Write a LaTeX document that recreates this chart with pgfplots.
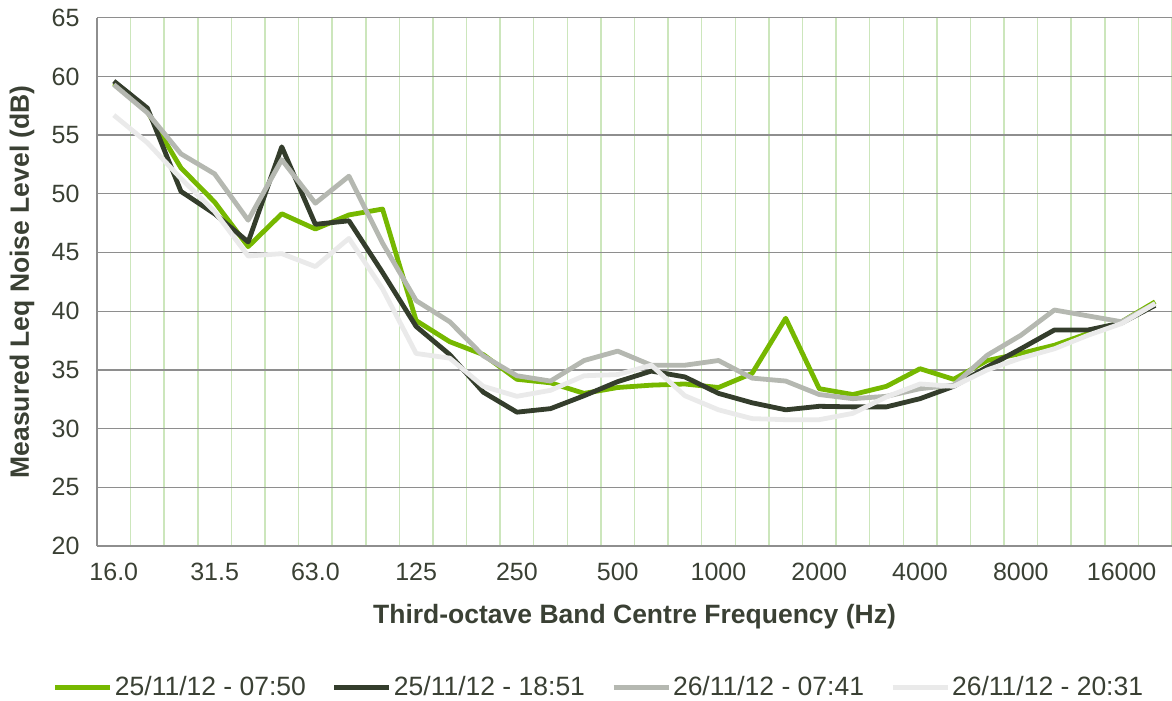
\documentclass[border=0pt]{standalone}
\usepackage{pgfplots}
\pgfplotsset{compat=1.18}
\usepackage{pgfplotstable}
\usepackage{fontspec}
\setmainfont{Liberation Sans}
\definecolor{sgreen}{RGB}{118,184,0}
\definecolor{sdark}{RGB}{52,61,44}
\definecolor{sgray}{RGB}{181,184,177}
\definecolor{slight}{RGB}{234,234,234}
\definecolor{txt}{RGB}{58,64,52}
\definecolor{hgrid}{RGB}{142,142,142}
\definecolor{vgrid}{RGB}{204,230,188}
\pgfplotstableread{
k g d s l
0 59.4 59.6 59.3 56.7
1 57.0 57.3 56.9 54.35
2 52.2 50.2 53.4 51.3
3 49.3 48.3 51.7 48.5
4 45.5 45.9 47.75 44.7
5 48.3 54.0 52.9 44.9
6 47.0 47.4 49.2 43.8
7 48.2 47.7 51.5 46.2
8 48.7 43.3 45.8 41.9
9 39.2 38.7 40.9 36.4
10 37.4 36.3 39.1 36.0
11 36.3 33.1 36.2 33.6
12 34.2 31.4 34.5 32.75
13 33.9 31.7 34.05 33.26
14 33.0 32.8 35.8 34.5
15 33.5 34.0 36.6 34.6
16 33.7 34.9 35.4 35.4
17 33.8 34.4 35.4 32.8
18 33.5 33.0 35.8 31.6
19 34.7 32.2 34.3 30.85
20 39.4 31.6 34.05 30.76
21 33.4 31.9 32.9 30.76
22 32.9 31.85 32.55 31.3
23 33.6 31.85 32.75 32.7
24 35.1 32.55 33.4 33.8
25 34.2 33.6 33.7 33.6
26 35.8 35.25 36.25 35.0
27 36.4 36.8 37.95 36.0
28 37.1 38.4 40.1 36.8
29 38.1 38.4 39.6 37.95
30 39.1 39.0 39.1 38.95
31 40.8 40.5 40.65 40.65
}\datatab
\begin{document}
\begin{tikzpicture}
\begin{axis}[
  scale only axis,
  width=1075pt, height=528.3pt,
  xmin=-0.5, xmax=31.5, ymin=20, ymax=65,
  axis x line*=bottom, axis y line*=left,
  axis line style={-, draw=hgrid, line width=1.3pt},
  xtick={0,3,...,30},
  xticklabels={16.0,31.5,63.0,125,250,500,1000,2000,4000,8000,16000},
  minor xtick={0.5,1.5,...,31.5},
  xminorgrids, ymajorgrids,
  minor x grid style={draw=vgrid, line width=1.5pt},
  major y grid style={draw=hgrid, line width=1.3pt},
  ytick={20,25,...,65},
  major tick length=0pt, minor tick length=0pt,
  /pgf/number format/assume math mode=true,
  tick label style={font=\fontsize{25}{30}\selectfont, text=txt},
  xticklabel style={yshift=-14pt},
  yticklabel style={xshift=-14pt},
  xlabel={\bfseries Third-octave Band Centre Frequency (Hz)},
  ylabel={\bfseries Measured Leq Noise Level (dB)},
  label style={font=\fontsize{26.5}{30}\selectfont, text=txt},
  xlabel style={at={(axis description cs:0.5,-0.1344)}, anchor=center},
  ylabel style={at={(axis description cs:-0.0698,0.5)}, anchor=center},
  legend columns=4,
  legend style={at={(axis description cs:0.467,-0.2669)}, anchor=center, draw=none, fill=none,
    font=\fontsize{26.5}{30}\selectfont, text=txt,
    /tikz/every even column/.append style={column sep=24pt}},
  legend image code/.code={\draw[#1, line width=5pt] (0pt,0pt) -- (55pt,0pt);},
  every axis plot/.append style={line width=4.8pt, line join=round},
]
\addplot[sgreen] table[x=k,y=g]{\datatab};
\addplot[sdark] table[x=k,y=d]{\datatab};
\addplot[sgray] table[x=k,y=s]{\datatab};
\addplot[slight] table[x=k,y=l]{\datatab};
\legend{25/11/12 - 07:50, 25/11/12 - 18:51, 26/11/12 - 07:41, 26/11/12 - 20:31}
\coordinate (bl) at (rel axis cs:0,0);
\coordinate (tr) at (rel axis cs:1,1);
\end{axis}
\pgfresetboundingbox
\path ([shift={(-97pt,-155pt)}]bl) rectangle ([shift={(0pt,17.7pt)}]tr);
\end{tikzpicture}
\end{document}
